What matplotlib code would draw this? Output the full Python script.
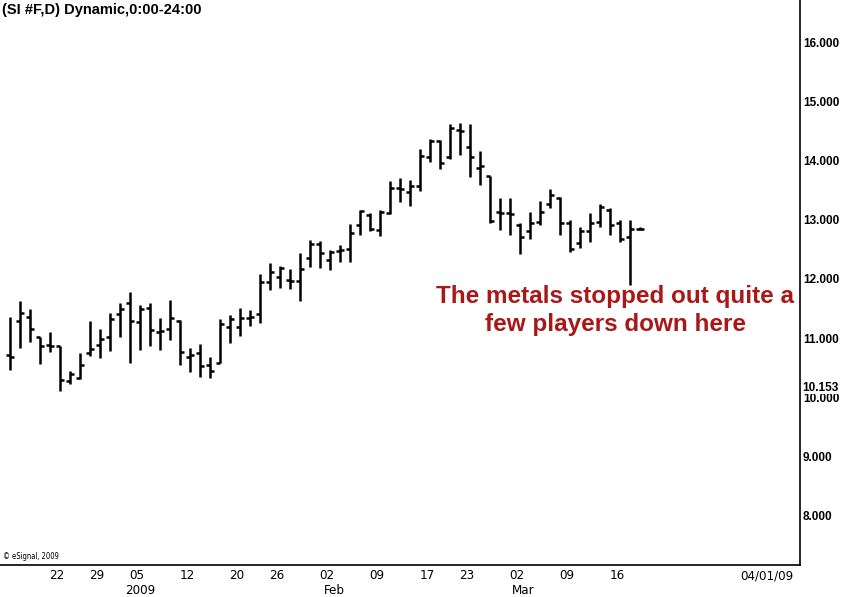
import matplotlib.pyplot as plt
import numpy as np

# ==============================================================================
# 1. DATA (daily silver futures, 15 Dec 2008 - 18 Mar 2009)
# ==============================================================================
opens = [10.71, 11.28, 11.36, 11.01, 10.89, 10.86, 10.27, 10.32, 10.74, 10.88,
         11.01, 11.41, 11.60, 11.27, 11.50, 11.11, 11.16, 11.29, 10.68, 10.75,
         10.54, 10.58, 11.19, 11.19, 11.33, 11.41, 11.95, 12.03, 11.98, 11.97,
         12.36, 12.59, 12.32, 12.47, 12.51, 12.91, 13.08, 12.82, 13.12, 13.53,
         13.46, 13.56, 14.06, 14.33, 14.05, 14.51, 14.23, 13.87, 13.74, 13.13,
         13.12, 12.91, 12.81, 12.96, 13.26, 13.36, 12.95, 12.60, 12.81, 12.96,
         13.17, 12.94, 12.70, 12.85]
highs = [11.36, 11.63, 11.49, 11.02, 11.10, 10.87, 10.44, 10.74, 11.29, 11.15,
         11.43, 11.59, 11.77, 11.55, 11.60, 11.33, 11.64, 11.30, 10.84, 10.90,
         10.68, 11.32, 11.39, 11.50, 11.47, 12.08, 12.27, 12.22, 12.16, 12.44,
         12.66, 12.64, 12.49, 12.57, 12.92, 13.16, 13.11, 13.16, 13.65, 13.71,
         13.67, 14.20, 14.36, 14.34, 14.61, 14.63, 14.61, 14.16, 13.74, 13.36,
         13.36, 12.95, 13.13, 13.32, 13.51, 13.38, 13.00, 12.87, 13.11, 13.26,
         13.19, 13.00, 13.00, 12.88]
lows = [10.46, 10.84, 10.93, 10.56, 10.76, 10.10, 10.23, 10.30, 10.70, 10.66,
        10.78, 11.01, 10.57, 10.80, 10.87, 10.80, 10.97, 10.54, 10.43, 10.35,
        10.32, 10.57, 10.92, 11.03, 11.20, 11.26, 11.81, 11.84, 11.82, 11.63,
        12.20, 12.18, 12.15, 12.29, 12.29, 12.74, 12.81, 12.73, 13.09, 13.29,
        13.23, 13.48, 13.98, 13.85, 14.02, 14.10, 13.72, 13.58, 12.94, 12.82,
        12.74, 12.42, 12.68, 12.91, 13.19, 12.74, 12.46, 12.52, 12.63, 12.88,
        12.74, 12.63, 11.90, 12.82]
closes = [10.68, 11.43, 11.15, 10.86, 10.87, 10.29, 10.39, 10.54, 10.81, 10.98,
          11.32, 11.49, 11.28, 11.49, 11.14, 11.12, 11.33, 10.77, 10.71, 10.52,
          10.45, 11.24, 11.32, 11.34, 11.36, 11.95, 12.12, 12.18, 11.97, 12.16,
          12.59, 12.43, 12.45, 12.49, 12.77, 13.14, 12.85, 13.13, 13.53, 13.52,
          13.57, 14.08, 14.32, 13.95, 14.54, 14.50, 14.05, 13.91, 12.98, 13.12,
          13.10, 12.70, 12.95, 13.13, 13.42, 12.95, 12.50, 12.80, 12.95, 13.21,
          12.91, 12.67, 12.85, 12.84]

# x-axis labels: trading-day index of each label
day_ticks = [5, 9, 13, 18, 23, 27, 32, 37, 42, 46, 51, 56, 61, 76]
day_labels = ['22', '29', '05', '12', '20', '26', '02', '09', '17', '23',
              '02', '09', '16', '04/01/09']
month_ticks = [13, 32.4, 51.3]
month_labels = ['2009', 'Feb', 'Mar']

y_ticks = [8, 9, 10, 11, 12, 13, 14, 15, 16]
last_marker = 10.153

ARIAL = ['Liberation Sans', 'DejaVu Sans']
NARROW = ['DejaVu Sans']

# ==============================================================================
# 2. DRAW
# ==============================================================================
fig = plt.figure(figsize=(8.44, 5.97), dpi=100)
ax = fig.add_axes([0, 32 / 597, 800 / 844, 565 / 597])

x = np.arange(len(opens))
lw = 1.8
ax.vlines(x, lows, highs, color='black', linewidth=lw)
ax.hlines(opens, x - 0.42, x, color='black', linewidth=lw)
ax.hlines(closes, x, x + 0.42, color='black', linewidth=lw)

ax.set_xlim(-1, 79)
ax.set_ylim(7.166, 16.71)

# spines: only right and bottom
for side in ['left', 'top']:
    ax.spines[side].set_visible(False)
ax.spines['right'].set_linewidth(1.2)
ax.spines['bottom'].set_linewidth(1.2)

# y axis on the right
ax.yaxis.tick_right()
ax.set_yticks(y_ticks)
ax.set_yticklabels([f'{v:.3f}' for v in y_ticks], fontsize=8.5,
                   fontweight='bold', family=ARIAL)
ax.tick_params(axis='y', length=0, pad=2)
ax.text(1.003, last_marker, f'{last_marker:.3f}', transform=ax.get_yaxis_transform(),
        ha='left', va='center', fontsize=8.5, fontweight='bold', family=ARIAL,
        bbox=dict(facecolor='white', edgecolor='none', pad=0.2))

# x axis: day numbers + month row
ax.set_xticks([t - 0.3 for t in day_ticks])
ax.set_xticklabels(day_labels, fontsize=9.5, family=NARROW, fontstretch='condensed')
ax.tick_params(axis='x', length=0, pad=3)
for t, lab in zip(month_ticks, month_labels):
    ax.text(t, -0.046, lab, transform=ax.get_xaxis_transform(), ha='center',
            va='center', fontsize=9.5, family=NARROW, fontstretch='condensed')

# titles & notes
fig.text(0.002, 0.984, '(SI #F,D) Dynamic,0:00-24:00', ha='left', va='center',
         fontsize=10.5, fontweight='bold', family=ARIAL)
fig.text(0.003, 0.068, '© eSignal, 2009', ha='left', va='center', fontsize=5.5,
         family=NARROW, fontstretch='condensed')
ax.text(60.55, 11.46, 'The metals stopped out quite a\nfew players down here',
        ha='center', va='center', fontsize=17.5, fontweight='bold', color='#A81818',
        linespacing=1.3, family=ARIAL)

fig.savefig('out.png', dpi=100)
